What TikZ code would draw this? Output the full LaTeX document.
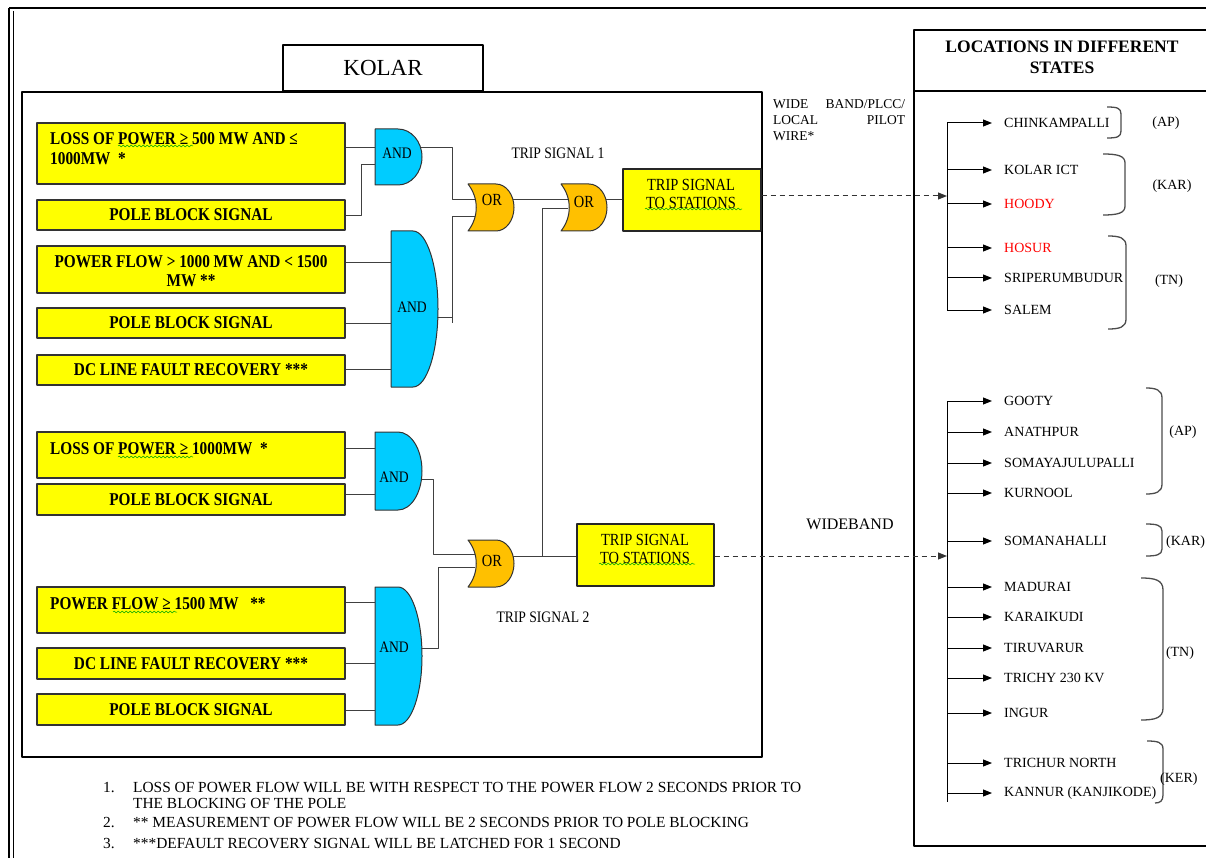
\documentclass[tikz,border=0pt]{standalone}
\usepackage{fontspec}
\setmainfont{Liberation Serif}
\newfontfamily\cond{Liberation Serif}[FakeStretch=0.85]
\usetikzlibrary{arrows.meta,calc,decorations.pathmorphing}
\definecolor{boxyellow}{HTML}{FFFF00}
\definecolor{gateblue}{HTML}{00CCFF}
\definecolor{gateorange}{HTML}{FFC000}
\definecolor{wirec}{HTML}{404040}
\newcommand\ANDshape[5]{% x0 y0 y1 xm x1
  \draw[andg] (#1,#2) -- (#4,#2)
    .. controls ({#4+0.5523*(#5-#4)},#2) and (#5,{(#2+#3)/2-0.5523*(#3-#2)/2}) .. (#5,{(#2+#3)/2})
    .. controls (#5,{(#2+#3)/2+0.5523*(#3-#2)/2}) and ({#4+0.5523*(#5-#4)},#3) .. (#4,#3)
    -- (#1,#3) -- cycle;}
\newcommand\ORshape[5]{% x0 y0 y1 xf x1
  \draw[org] (#1,#2) -- (#4,#2)
    .. controls ({#4+0.5523*(#5-#4)},#2) and (#5,{(#2+#3)/2-0.5523*(#3-#2)/2}) .. (#5,{(#2+#3)/2})
    .. controls (#5,{(#2+#3)/2+0.5523*(#3-#2)/2}) and ({#4+0.5523*(#5-#4)},#3) .. (#4,#3)
    -- (#1,#3) .. controls ({#1+11},{#3-0.3*(#3-#2)}) and ({#1+11},{#2+0.3*(#3-#2)}) .. (#1,#2) -- cycle;}
\begin{document}
\begin{tikzpicture}[x=1pt,y=-1pt,line join=round,
  ybox/.style={draw=black!80, fill=boxyellow, line width=1.2pt, minimum width=308pt, inner sep=0pt},
  btxt/.style={font=\cond\bfseries\fontsize{18}{20}\selectfont, inner sep=0pt, align=center},
  wire/.style={draw=wirec, line width=0.9pt},
  andg/.style={draw=black!80, fill=gateblue, line width=1pt},
  org/.style={draw=black!80, fill=gateorange, line width=1pt},
  gtxt/.style={font=\cond\fontsize{16}{18}\selectfont, inner sep=0pt},
  otxt/.style={font=\cond\fontsize{17}{18}\selectfont, inner sep=0pt},
  tsbox/.style={draw=black!85, fill=boxyellow, line width=1.4pt, inner sep=0pt, minimum height=62pt},
  tstxt/.style={font=\cond\fontsize{17}{18}\selectfont, inner sep=0pt, align=center},
  loc/.style={font=\fontsize{14}{16}\selectfont, anchor=west, inner sep=0pt},
  st/.style={font=\fontsize{14}{16}\selectfont, inner sep=0pt},
  arr/.style={draw=black, line width=1pt, -{Triangle[length=9pt,width=7pt]}},
  dasharrow/.style={draw=black!80, line width=1pt, dash pattern=on 5pt off 4pt, -{Triangle[length=9pt,width=7pt]}},
  brk/.style={draw=black!70, line width=1.3pt},
  squig/.style={draw=green!65!black, line width=0.5pt, decorate, decoration={snake, amplitude=1pt, segment length=4pt}},
  fn/.style={font=\fontsize{15.4}{17}\selectfont, inner sep=0pt, anchor=base west}
]
\useasboundingbox (0,0) rectangle (1206,858);
% outer frame
\draw[line width=1.6pt] (9,8) -- (1212,8);
\draw[line width=1.2pt] (9,8) -- (9,862);
\draw[line width=0.8pt] (13,11) -- (13,862);
% main box
\draw[line width=2pt] (22,92) rectangle (762,757);
\node[draw, fill=white, line width=1.6pt, minimum width=200pt, minimum height=46pt, inner sep=0pt,
      font=\fontsize{23}{24}\selectfont] (kolar) at (383,68) {KOLAR};
% right box
\draw[line width=2.5pt] (914,30) rectangle (1215,846);
\draw[line width=2.5pt] (914,91) -- (1215,91);
\node[font=\bfseries\fontsize{17.5}{21}\selectfont, align=center, inner sep=0pt] (hdr) at (1062,57) {LOCATIONS IN DIFFERENT\\STATES};

% ---------- yellow input boxes ----------
\node[ybox, minimum height=61pt] (b1) at (191,153.5) {};
\node[ybox, minimum height=30pt] (b2) at (191,215) {};
\node[ybox, minimum height=47pt] (b3) at (191,269.5) {};
\node[ybox, minimum height=30pt] (b4) at (191,323) {};
\node[ybox, minimum height=30pt] (b5) at (191,370) {};
\node[ybox, minimum height=46pt] (b6) at (191,455) {};
\node[ybox, minimum height=31pt] (b7) at (191,499.5) {};
\node[ybox, minimum height=46pt] (b8) at (191,610) {};
\node[ybox, minimum height=31pt] (b9) at (191,663.5) {};
\node[ybox, minimum height=31pt] (b10) at (191,709.5) {};

\node[btxt, anchor=west, align=left] (t1) at (50,149) {LOSS OF POWER ≥ 500 MW AND ≤\\1000MW \ *};
\node[btxt] (t2) at (b2) {POLE BLOCK SIGNAL};
\node[btxt, font=\cond\bfseries\fontsize{18}{19}\selectfont] (t3) at (191,271) {POWER FLOW > 1000 MW AND < 1500\\MW **};
\node[btxt] (t4) at (b4) {POLE BLOCK SIGNAL};
\node[btxt] (t5) at (b5) {DC LINE FAULT RECOVERY ***};
\node[btxt, anchor=west] (t6) at (50,449) {LOSS OF POWER ≥ 1000MW \ *};
\node[btxt] (t7) at (b7) {POLE BLOCK SIGNAL};
\node[btxt, anchor=west] (t8) at (50,604) {POWER FLOW ≥ 1500 MW \ \ **};
\node[btxt] (t9) at (b9) {DC LINE FAULT RECOVERY ***};
\node[btxt] (t10) at (b10) {POLE BLOCK SIGNAL};
\draw[squig] (118,146) -- (193,146);
\draw[squig] (118,457) -- (193,457);
\draw[squig] (113,612) -- (177,612);

% ---------- gates ----------
\ANDshape{375}{129}{185}{398}{422}
\node[gtxt] (g1) at (397,153) {AND};
\ANDshape{391}{231}{387}{413}{438}
\node[gtxt] (g2) at (412,307) {AND};
\ANDshape{375}{432}{510}{398}{422}
\node[gtxt] (g3) at (394,477) {AND};
\ANDshape{375}{587}{725}{398}{422}
\node[gtxt] (g4) at (394,647) {AND};

\ORshape{468}{184}{231}{496}{514}
\node[otxt] (or1) at (492,200) {OR};
\ORshape{561}{184}{231}{589}{607}
\node[otxt] (or2) at (584,202) {OR};
\ORshape{468}{540}{587}{496}{514}
\node[otxt] (or3) at (492,561) {OR};

% ports
\coordinate (g1a) at (375,147); \coordinate (g1b) at (375,164); \coordinate (g1o) at (421,147);
\coordinate (g2a) at (391,262); \coordinate (g2b) at (391,323); \coordinate (g2c) at (391,369); \coordinate (g2o) at (437,317);
\coordinate (g3a) at (375,448); \coordinate (g3b) at (375,494); \coordinate (g3o) at (422,479);
\coordinate (g4a) at (375,602); \coordinate (g4b) at (375,663); \coordinate (g4c) at (375,710); \coordinate (g4o) at (421,648);
\coordinate (o1a) at (475,199); \coordinate (o1b) at (475,216); \coordinate (o1o) at (513,199);
\coordinate (o2a) at (568,199); \coordinate (o2b) at (568,208); \coordinate (o2o) at (606,199);
\coordinate (o3a) at (475,554); \coordinate (o3b) at (475,567); \coordinate (o3o) at (513,556);

% trip signal boxes
\node[tsbox, minimum width=138pt] (ts1) at (692,200) {};
\node[tstxt] (ts1t) at (691,194) {TRIP SIGNAL\\TO STATIONS};
\node[tsbox, minimum width=137pt] (ts2) at (645.5,555) {};
\node[tstxt] (ts2t) at (645,549) {TRIP SIGNAL\\TO STATIONS};
\draw[squig] (645,209) -- (742,209);
\draw[squig] (599,564) -- (695,564);
\node[font=\cond\fontsize{16}{18}\selectfont, inner sep=0pt] (lab1) at (558,153) {TRIP SIGNAL 1};
\node[font=\cond\fontsize{16}{18}\selectfont, inner sep=0pt] (lab2) at (543,617) {TRIP SIGNAL 2};

% wires
\draw[wire] (b1.east |- g1a) -- (g1a);
\draw[wire] (b2.east) -- ++(16,0) |- (g1b);
\draw[wire] (b3.east |- g2a) -- (g2a);
\draw[wire] (b4.east |- g2b) -- (g2b);
\draw[wire] (b5.east |- g2c) -- (g2c);
\draw[wire] (b6.east |- g3a) -- (g3a);
\draw[wire] (b7.east |- g3b) -- (g3b);
\draw[wire] (b8.east |- g4a) -- (g4a);
\draw[wire] (b9.east |- g4b) -- (g4b);
\draw[wire] (b10.east |- g4c) -- (g4c);
\draw[wire] (g1o) -- ++(31,0) |- (o1a);
\draw[wire] (g2o) -- ++(15,0) coordinate (j2);
\draw[wire] (o1b) -| ($(j2)+(0,6)$);
\draw[wire] (g3o) -- ++(11,0) |- (o3a);
\draw[wire] (g4o) -- ++(17,0) |- (o3b);
\draw[wire] (o1o) -- (o2a);
\draw[wire] (o2o) -- (ts1.west |- o2o);
\coordinate (jv) at (542,556);
\draw[wire] (o3o) -- (ts2.west |- o3o);
\draw[wire] (o2b) -| (jv);

% link labels
\node[font=\fontsize{13.5}{16}\selectfont, text width=132pt, align=left, inner sep=0pt, anchor=north west] (wbp) at (773,99)
  {WIDE\hfill BAND/PLCC/\\LOCAL\hfill PILOT\\WIRE*};
\node[font=\fontsize{16}{18}\selectfont, inner sep=0pt] (wb) at (850,524) {WIDEBAND};

% ---------- location list 1 ----------
\coordinate (v1t) at (947,123); \coordinate (v1b) at (947,310);
\draw[line width=1pt] (v1t) -- (v1b);
\node[loc] (c1) at (1004,123) {CHINKAMPALLI};
\node[loc] (c2) at (1004,170) {KOLAR ICT};
\node[loc, text=red] (c3) at (1004,204) {HOODY};
\node[loc, text=red] (c4) at (1004,248) {HOSUR};
\node[loc] (c5) at (1004,278) {SRIPERUMBUDUR};
\node[loc] (c6) at (1004,310) {SALEM};
\foreach \n in {c1,c2,c3,c4,c5,c6}
  \draw[arr] (\n.west -| v1t) -- ([xshift=-12pt]\n.west);
\draw[dasharrow] (ts1.east |- 0,196) -- (v1t |- 0,196);
\draw[brk] (1107,107) .. controls (1117,107) and (1121,108) .. (1121,114) -- (1121,131) .. controls (1121,137) and (1117,138) .. (1107,138);
\draw[brk] (1103,154) .. controls (1118,154) and (1125,156) .. (1125,163) -- (1125,206) .. controls (1125,213) and (1118,215) .. (1103,215);
\draw[brk] (1108,236) .. controls (1120,236) and (1126,238) .. (1126,246) -- (1126,319) .. controls (1126,327) and (1120,329) .. (1108,329);
\node[st] (s1) at (1166,123) {(AP)};
\node[st] (s2) at (1172,186) {(KAR)};
\node[st] (s3) at (1169,281) {(TN)};

% ---------- location list 2 ----------
\coordinate (v2t) at (947,401); \coordinate (v2b) at (947,802);
\draw[line width=1pt] (v2t) -- (v2b);
\node[loc] (d1) at (1004,401) {GOOTY};
\node[loc] (d2) at (1004,432) {ANATHPUR};
\node[loc] (d3) at (1004,463) {SOMAYAJULUPALLI};
\node[loc] (d4) at (1004,493) {KURNOOL};
\node[loc] (d5) at (1004,541) {SOMANAHALLI};
\node[loc] (d6) at (1004,587) {MADURAI};
\node[loc] (d7) at (1004,617) {KARAIKUDI};
\node[loc] (d8) at (1004,648) {TIRUVARUR};
\node[loc] (d9) at (1004,678) {TRICHY 230 KV};
\node[loc] (d10) at (1004,713) {INGUR};
\node[loc] (d11) at (1004,763) {TRICHUR NORTH};
\node[loc] (d12) at (1004,793) {KANNUR (KANJIKODE)};
\foreach \n in {d1,d2,d3,d4,d5,d6,d7,d8,d9,d10,d11,d12}
  \draw[arr] (\n.west -| v2t) -- ([xshift=-12pt]\n.west);
\draw[dasharrow] (ts2.east |- jv) -- (v2t |- jv);
\draw[brk] (1146,388) .. controls (1156,388) and (1162,390) .. (1162,398) -- (1162,484) .. controls (1162,492) and (1156,494) .. (1146,494);
\draw[brk] (1146,524) .. controls (1156,524) and (1162,525) .. (1162,531) -- (1162,549) .. controls (1162,555) and (1156,556) .. (1146,556);
\draw[brk] (1141,578) .. controls (1155,578) and (1163,580) .. (1163,590) -- (1163,708) .. controls (1163,718) and (1155,720) .. (1141,720);
\draw[brk] (1147,741) .. controls (1157,741) and (1163,742) .. (1163,749) -- (1163,795) .. controls (1163,801) and (1160,803) .. (1155,803);
\node[st] (s4) at (1183,432) {(AP)};
\node[st, anchor=west] (s5) at (1166,542) {(KAR)};
\node[st] (s6) at (1180,653) {(TN)};
\node[st, anchor=west] (s7) at (1160,779) {(KER)};

% ---------- footnotes ----------
\node[fn] (f1n) at (103,792) {1.};
\node[fn] (f1) at (133,792) {LOSS OF POWER FLOW WILL BE WITH RESPECT TO THE POWER FLOW 2 SECONDS PRIOR TO};
\node[fn] (f1b) at (133,808) {THE BLOCKING OF THE POLE};
\node[fn] (f2n) at (103,827) {2.};
\node[fn] (f2) at (133,827) {** MEASUREMENT OF POWER FLOW WILL BE 2 SECONDS PRIOR TO POLE BLOCKING};
\node[fn] (f3n) at (103,848) {3.};
\node[fn] (f3) at (133,848) {***DEFAULT RECOVERY SIGNAL WILL BE LATCHED FOR 1 SECOND};
\end{tikzpicture}
\end{document}
